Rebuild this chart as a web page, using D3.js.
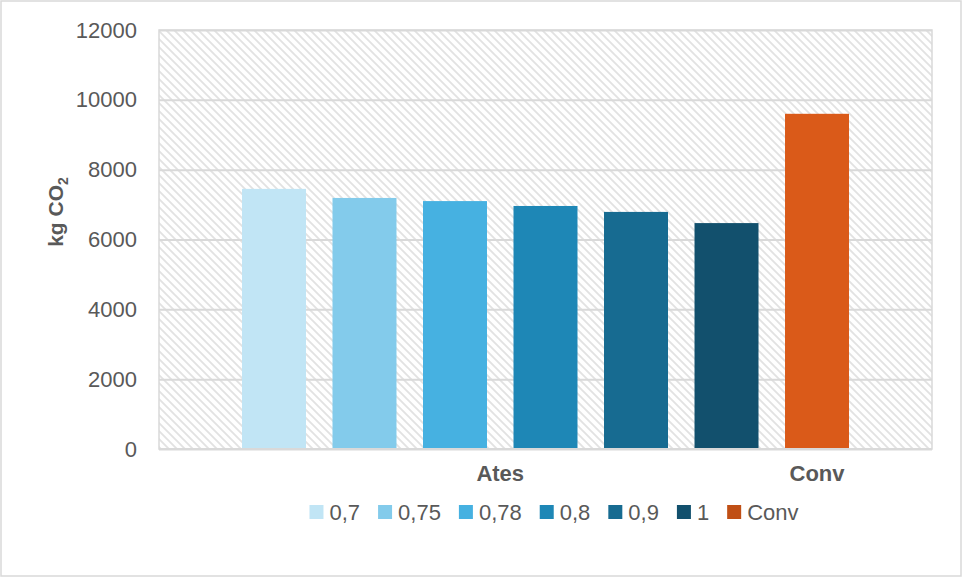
<!DOCTYPE html>
<html>
<head>
<meta charset="utf-8">
<script src="https://cdn.jsdelivr.net/npm/d3@7"></script>
<style>
  body { margin: 0; background: #fff; }
  svg text { font-family: "Liberation Sans", Arial, sans-serif; fill: #595959; }
</style>
</head>
<body>
<svg id="chart" width="963" height="577"></svg>
<script>
// series (one bar each), grouped under two category labels
var seriesNames = ["0,7", "0,75", "0,78", "0,8", "0,9", "1", "Conv"];
var seriesValues = [7450, 7190, 7100, 6960, 6790, 6470, 9600];
var seriesGroup = ["Ates", "Ates", "Ates", "Ates", "Ates", "Ates", "Conv"];
var groupNames = ["Ates", "Conv"];
var yTicks = [0, 2000, 4000, 6000, 8000, 10000, 12000];
var barColors = ["#c1e5f5", "#83cbeb", "#46b1e1", "#1e87b6", "#176b91", "#12506d", "#da5a19"];
var legendColors = ["#c1e5f5", "#83cbeb", "#46b1e1", "#1e87b6", "#176b91", "#12506d", "#c04f15"];

var svg = d3.select("#chart");
var plotLeft = 159, plotRight = 932, plotTop = 30, plotBottom = 449;

// outer chart border
svg.append("rect")
    .attr("x", 1).attr("y", 1).attr("width", 960).attr("height", 575)
    .attr("fill", "#fff").attr("stroke", "#d9d9d9").attr("stroke-width", 1.5);

var x = d3.scaleBand()
    .domain(seriesNames)
    .range([plotLeft, plotRight])
    .paddingInner(0.293)
    .paddingOuter(0.917);

var y = d3.scaleLinear().domain([0, 12000]).range([plotBottom, plotTop]);

// hatch for the plot area
var defs = svg.append("defs");
var pat = defs.append("pattern")
    .attr("id", "hatch")
    .attr("patternUnits", "userSpaceOnUse")
    .attr("width", 8).attr("height", 8);
pat.append("rect").attr("width", 8).attr("height", 8).attr("fill", "#fff");
pat.append("path")
    .attr("d", "M0,0 L8,8 M-2,6 L2,10 M6,-2 L10,2")
    .attr("stroke", "#e2e2e2").attr("stroke-width", 1.8);

svg.append("rect")
    .attr("x", plotLeft).attr("y", plotTop)
    .attr("width", plotRight - plotLeft).attr("height", plotBottom - plotTop)
    .attr("fill", "url(#hatch)")
    .attr("stroke", "#d9d9d9").attr("stroke-width", 1.5);

// gridlines + tick labels
var yAxis = d3.axisLeft(y).tickValues(yTicks)
    .tickSize(-(plotRight - plotLeft)).tickPadding(22).tickFormat(d3.format("d"));
var gy = svg.append("g").attr("transform", "translate(" + plotLeft + ",0)").call(yAxis);
gy.select(".domain").remove();
gy.selectAll(".tick line").attr("stroke", "#d9d9d9").attr("stroke-width", 2);
gy.selectAll(".tick text")
    .attr("fill", "#595959").style("font-size", "22px")
    .style("font-family", "Liberation Sans, Arial, sans-serif");

// bars
svg.append("g").selectAll("rect")
    .data(seriesNames)
    .join("rect")
    .attr("x", function (d) { return x(d); })
    .attr("y", function (d, i) { return y(seriesValues[i]); })
    .attr("width", x.bandwidth())
    .attr("height", function (d, i) { return y(0) - y(seriesValues[i]); })
    .attr("fill", function (d, i) { return barColors[i]; });

// baseline
svg.append("line")
    .attr("x1", plotLeft).attr("x2", plotRight).attr("y1", plotBottom).attr("y2", plotBottom)
    .attr("stroke", "#d9d9d9").attr("stroke-width", 2);

// category labels centred under their bars
groupNames.forEach(function (g) {
    var members = seriesNames.filter(function (d, i) { return seriesGroup[i] === g; });
    var cx = d3.mean(members, function (d) { return x(d) + x.bandwidth() / 2; });
    svg.append("text")
        .attr("x", cx).attr("y", 481)
        .attr("text-anchor", "middle")
        .style("font-size", "22px").style("font-weight", "bold")
        .text(g);
});

// y axis title
var title = svg.append("text")
    .attr("transform", "translate(63,212) rotate(-90)")
    .attr("text-anchor", "middle")
    .style("font-size", "21px").style("font-weight", "bold");
title.append("tspan").text("kg CO");
title.append("tspan").attr("dy", 5).style("font-size", "14px").text("2");

// legend
var legend = svg.append("g");
var lx = 0;
seriesNames.forEach(function (d, i) {
    var item = legend.append("g").attr("transform", "translate(" + lx + ",0)");
    item.append("rect").attr("x", 0).attr("y", -7).attr("width", 14).attr("height", 14)
        .attr("fill", legendColors[i]);
    var t = item.append("text").attr("x", 20).attr("y", 7.5)
        .style("font-size", "22px").text(d);
    lx += 20 + t.node().getComputedTextLength() + 18;
});
var legendWidth = lx - 18;
legend.attr("transform", "translate(" + (554 - legendWidth / 2) + ",512)");
</script>
</body>
</html>
